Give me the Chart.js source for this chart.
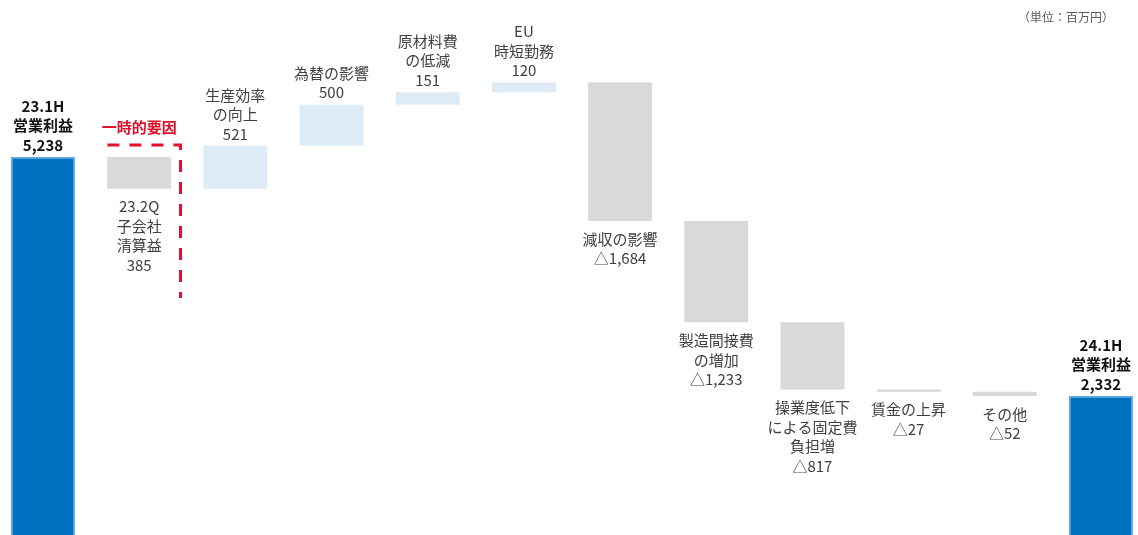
<!DOCTYPE html>
<html lang="ja">
<head>
<meta charset="UTF-8">
<title>営業利益 増減要因</title>
<script src="https://cdn.jsdelivr.net/npm/chart.js"></script>
<style>
    body {
        margin: 0;
        background: #ffffff;
        font-family: "Noto Sans CJK JP", "Noto Sans", sans-serif;
    }
    #wrap {
        position: relative;
        width: 1138px;
        height: 535px;
    }
    #unit {
        position: absolute;
        top: 8px;
        right: 24px;
        font-size: 12px;
        color: #595959;
    }
</style>
</head>
<body>
<div id="wrap">
    <canvas id="chart"></canvas>
    <div id="unit">（単位：百万円）</div>
</div>
<script>
// categories (multi-line labels), signed change values, printed values
const categories = [
    ['23.1H', '営業利益'],
    ['23.2Q', '子会社', '清算益'],
    ['生産効率', 'の向上'],
    ['為替の影響'],
    ['原材料費', 'の低減'],
    ['EU', '時短勤務'],
    ['減収の影響'],
    ['製造間接費', 'の増加'],
    ['操業度低下', 'による固定費', '負担増'],
    ['賃金の上昇'],
    ['その他'],
    ['24.1H', '営業利益']
];
const values = [5238, -385, 521, 500, 151, 120, -1684, -1233, -817, -27, -52, 2332];
const valueLabels = ['5,238', '385', '521', '500', '151', '120', '△1,684', '△1,233', '△817', '△27', '△52', '2,332'];
const kinds = ['total', 'down', 'up', 'up', 'up', 'up', 'down', 'down', 'down', 'down', 'down', 'total'];

const colors = { total: '#0070C0', up: '#DDEBF7', down: '#D9D9D9' };

// build floating ranges for the waterfall
let cum = 0;
const ranges = values.map((v, i) => {
    if (kinds[i] === 'total') { cum = v; return { x: i, y: [0, v] }; }
    const start = cum;
    cum += v;
    return { x: i, y: [start, cum] };
});

const labelPlugin = {
    id: 'waterfallLabels',
    afterDatasetsDraw(chart) {
        const ctx = chart.ctx;
        const meta = chart.getDatasetMeta(0);
        const lh = 19.5;
        ctx.save();
        ctx.textAlign = 'center';
        ctx.textBaseline = 'middle';
        meta.data.forEach((bar, i) => {
            const lines = categories[i].concat([valueLabels[i]]);
            const top = Math.min(bar.y, bar.base);
            const bottom = Math.max(bar.y, bar.base);
            if (kinds[i] === 'total') {
                ctx.font = 'bold 15px "Noto Sans CJK JP"';
                ctx.fillStyle = '#111111';
            } else {
                ctx.font = '15px "Noto Sans CJK JP"';
                ctx.fillStyle = '#404040';
            }
            lines.forEach((t, k) => {
                let y;
                if (kinds[i] === 'down') {
                    y = bottom + 18 + k * lh;
                } else {
                    y = top - 12 - (lines.length - 1 - k) * lh;
                }
                ctx.fillText(t, bar.x, y);
            });
        });

        // 一時的要因 bracket
        const xs = chart.scales.x, ys = chart.scales.y;
        const x0 = xs.getPixelForValue(0.67), x1 = xs.getPixelForValue(1.43);
        const yTop = ys.getPixelForValue(5384), yBot = ys.getPixelForValue(3524);
        ctx.strokeStyle = '#E0102A';
        ctx.lineWidth = 3;
        ctx.setLineDash([12, 10]);
        ctx.beginPath();
        ctx.moveTo(x0, yTop);
        ctx.lineTo(x1, yTop);
        ctx.lineTo(x1, yBot);
        ctx.stroke();
        ctx.setLineDash([]);
        ctx.font = 'bold 15px "Noto Sans CJK JP"';
        ctx.fillStyle = '#E0102A';
        ctx.fillText('一時的要因', xs.getPixelForValue(1), ys.getPixelForValue(5603));
        ctx.restore();
    }
};

new Chart(document.getElementById('chart'), {
    type: 'bar',
    data: {
        datasets: [{
            data: ranges,
            backgroundColor: kinds.map(k => colors[k]),
            borderColor: kinds.map(k => k === 'total' ? '#5FA8E4' : 'rgba(0,0,0,0)'),
            borderWidth: kinds.map(k => k === 'total' ? 1.5 : 0),
            borderSkipped: false,
            barPercentage: 0.665,
            categoryPercentage: 1
        }]
    },
    options: {
        responsive: true,
        maintainAspectRatio: false,
        animation: false,
        layout: { padding: 0 },
        plugins: {
            legend: { display: false },
            tooltip: { enabled: false }
        },
        scales: {
            x: { type: 'linear', min: -0.447, max: 11.385, offset: false, display: false },
            y: { min: 642, max: 7147, display: false }
        }
    },
    plugins: [labelPlugin]
});
</script>
</body>
</html>
